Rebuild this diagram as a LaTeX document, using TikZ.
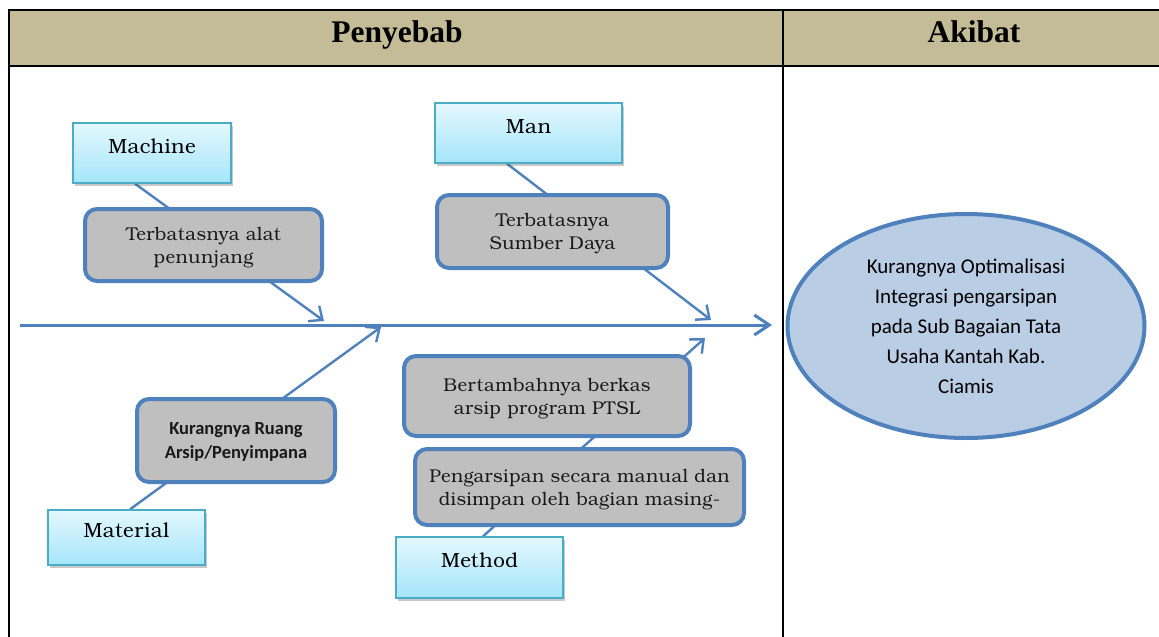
\documentclass[tikz,border=0pt]{standalone}
\usepackage{fontspec}
\setmainfont{Liberation Serif}
\newfontfamily\bkfont{texgyrebonum-regular.otf}[LetterSpace=2]
\newfontfamily\calfont{Carlito}
\usetikzlibrary{arrows.meta,shadows,backgrounds,calc,shapes.geometric}
\definecolor{hdr}{HTML}{C4BC96}
\definecolor{bl}{HTML}{4F81BD}
\definecolor{lbb}{HTML}{4BACC6}
\definecolor{lbtop}{HTML}{E4F8FE}
\definecolor{lbbot}{HTML}{A5E5FA}
\definecolor{gr}{HTML}{BFBFBF}
\definecolor{ell}{HTML}{B9CDE5}
\tikzset{
  lbox/.style={draw=lbb, line width=1.4pt, top color=lbtop, bottom color=lbbot,
    drop shadow={shadow xshift=2pt, shadow yshift=-3pt, opacity=0.3, fill=black!70},
    inner sep=0pt, text height=10pt, text depth=10pt,
    font=\bkfont\fontsize{20.5}{23}\selectfont},
  gbox/.style={draw=bl, line width=4pt, fill=gr, rounded corners=12pt,
    inner sep=0pt, align=center, text depth=0pt, text=black!90,
    font=\bkfont\fontsize{18.5}{23}\selectfont},
  conn/.style={draw=bl, line width=2.4pt, -{Straight Barb[length=11pt,width=19pt]}},
  spine/.style={draw=bl, line width=3pt, -{Straight Barb[length=15pt,width=20pt]}},
  tbl/.style={draw=black, line width=2.2pt},
  hdrtext/.style={font=\bfseries\fontsize{31.5}{36}\selectfont, anchor=base}
}
\begin{document}
\begin{tikzpicture}[x=1pt,y=-1pt]
\useasboundingbox (0,0) rectangle (1159,637);
% table
\fill[hdr] (9,10) rectangle (1159,66);
\draw[tbl] (9,637) -- (9,10) -- (1159,10);
\draw[tbl] (9,66) -- (1159,66);
\draw[tbl] (783,10) -- (783,637);
\node[hdrtext] (penyebab) at (397,42) {Penyebab};
\node[hdrtext] (akibat) at (974,42) {Akibat};

% category boxes
\node[lbox, minimum width=158pt, minimum height=60pt] (machine) at (152,153) {Machine};
\node[lbox, minimum width=187pt, minimum height=60pt] (man) at (528.5,133) {Man};
\node[lbox, minimum width=157pt, minimum height=55pt] (material) at (126.5,537.5) {Material};
\node[lbox, minimum width=167pt, minimum height=61pt] (method) at (479.5,567.5) {Method};

% cause boxes
\node[gbox, minimum width=237pt, minimum height=72pt] (g1) at (203.5,245) {Terbatasnya alat\\penunjang};
\node[gbox, minimum width=231pt, minimum height=73pt] (g2) at (552.5,231.5) {Terbatasnya\\Sumber Daya};
\node[gbox, minimum width=198pt, minimum height=83pt, font=\calfont\bfseries\fontsize{18.5}{24}\selectfont] (g3) at (236,440.5) {Kurangnya Ruang\\Arsip/Penyimpana};
\node[gbox, minimum width=286pt, minimum height=80pt] (g4) at (547,396) {Bertambahnya berkas\\arsip program PTSL};
\node[gbox, minimum width=329pt, minimum height=76pt] (g5) at (579.5,487) {Pengarsipan secara manual dan\\disimpan oleh bagian masing-};

% effect
\node[ellipse, draw=bl, line width=4pt, fill=ell, minimum width=357pt, minimum height=224pt,
  inner sep=0pt, align=center, font=\calfont\fontsize{21}{30}\selectfont] (effect) at (966,326)
  {Kurangnya Optimalisasi\\Integrasi pengarsipan\\pada Sub Bagaian Tata\\Usaha Kantah Kab.\\Ciamis};

% tips
\coordinate (sL) at (20,325);
\coordinate (sR) at (772,325);
\coordinate (t1) at (324,321);
\coordinate (t2) at (711,320);
\coordinate (t3) at (381,327);
\coordinate (t4) at (705,338);

\begin{pgfonlayer}{background}
\draw[spine] (sL) -- (sR);
\draw[conn] ($(machine.south)+(-17,0)$) -- (t1);
\draw[conn] ($(man.south)+(-21.5,0)$) -- (t2);
\draw[conn] ($(material.north)+(3.5,0)$) -- (t3);
\draw[conn] ($(method.north)+(3.5,0)$) -- (t4);
\end{pgfonlayer}
\end{tikzpicture}
\end{document}
